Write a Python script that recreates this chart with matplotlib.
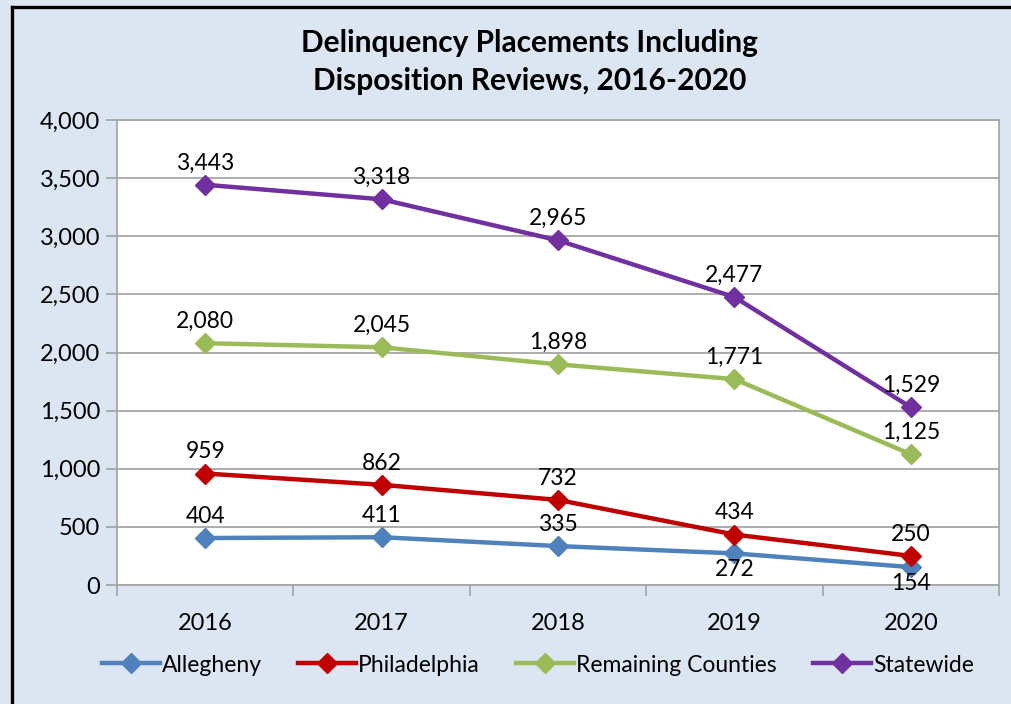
import matplotlib
matplotlib.use("Agg")
import matplotlib.pyplot as plt
from matplotlib.ticker import FuncFormatter
from matplotlib.lines import Line2D

plt.rcParams['font.family'] = ['Lato', 'DejaVu Sans']

years = ["2016", "2017", "2018", "2019", "2020"]
allegheny = [404, 411, 335, 272, 154]
philadelphia = [959, 862, 732, 434, 250]
remaining = [2080, 2045, 1898, 1771, 1125]
statewide = [3443, 3318, 2965, 2477, 1529]

series = [
    ("Allegheny", allegheny, "#4F81BD", ["above", "above", "above", "below", "below"]),
    ("Philadelphia", philadelphia, "#C00000", ["above"] * 5),
    ("Remaining Counties", remaining, "#9BBB59", ["above"] * 5),
    ("Statewide", statewide, "#7030A0", ["above"] * 5),
]

fig = plt.figure(figsize=(10.12, 7.04), dpi=100)
fig.patch.set_facecolor("#DCE6F2")
ax = fig.add_axes([117 / 1012, 1 - 585 / 704, 882 / 1012, 465 / 704])
ax.set_facecolor("white")

x = list(range(len(years)))
for name, vals, color, pos in series:
    ax.plot(x, vals, color=color, lw=3.2, marker="D", ms=10, mec=color,
            mfc=color, label=name, zorder=3)
    for xi, v, p in zip(x, vals, pos):
        dy = 8 if p == "above" else -4
        va = "bottom" if p == "above" else "top"
        ax.annotate(f"{v:,}", (xi, v), xytext=(0, dy), textcoords="offset points",
                    ha="center", va=va, fontsize=16.5, color="black", zorder=4)

ax.set_xlim(-0.5, 4.5)
ax.set_ylim(0, 4000)
ax.set_yticks(range(0, 4001, 500))
ax.yaxis.set_major_formatter(FuncFormatter(lambda v, _: f"{int(v):,}"))
ax.set_xticks(x)
ax.set_xticklabels(years)
ax.set_xticks([i - 0.5 for i in range(6)], minor=True)
ax.tick_params(axis="x", which="major", length=0, pad=20, labelsize=17)
ax.tick_params(axis="x", which="minor", length=8, color="#A6A6A6", width=1.3)
ax.tick_params(axis="y", length=8, color="#A6A6A6", width=1.3, labelsize=17, pad=4)
ax.grid(axis="y", color="#A6A6A6", lw=1.3, zorder=0)
ax.set_axisbelow(True)
for side in ["top", "right", "left", "bottom"]:
    ax.spines[side].set_color("#A6A6A6")
    ax.spines[side].set_linewidth(1.3)

fig.text(530 / 1012, 1 - 62 / 704, "Delinquency Placements Including\nDisposition Reviews, 2016-2020",
         ha="center", va="center", fontsize=21.5, fontweight="bold", linespacing=1.45)

handles = [Line2D([0], [0], color=c, lw=3.2, marker="D", ms=10, mfc=c, mec=c)
           for _, _, c, _ in series]
fig.legend(handles, [s[0] for s in series], loc="center", ncol=4,
           bbox_to_anchor=(538 / 1012, 1 - 665 / 704), frameon=False,
           fontsize=16.5, handlelength=2.5, columnspacing=1.6, handletextpad=0.1)

# outer frame lines on the left and top
fig.add_artist(Line2D([12 / 1012, 12 / 1012], [0, 1 - 7 / 704], color="black", lw=2.4,
                      transform=fig.transFigure))
fig.add_artist(Line2D([12 / 1012, 1], [1 - 7 / 704, 1 - 7 / 704], color="black", lw=2.4,
                      transform=fig.transFigure))

fig.savefig("out.png", dpi=100, facecolor=fig.get_facecolor())
